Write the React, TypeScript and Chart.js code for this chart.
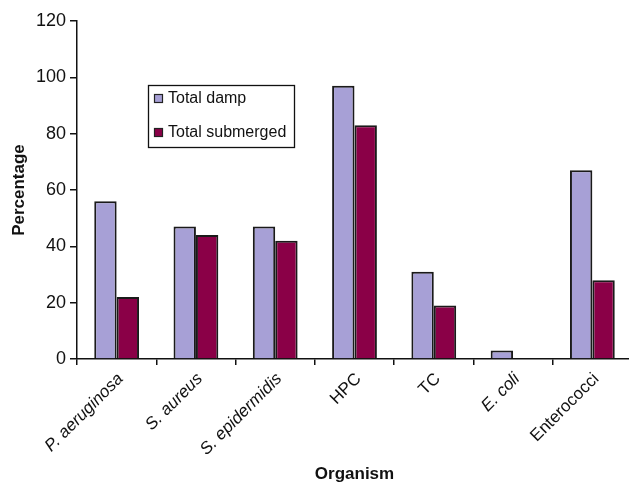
import React, { useEffect, useRef } from "react";
import { Chart, registerables } from "chart.js";

Chart.register(...registerables);

const categories = [
  "P. aeruginosa",
  "S. aureus",
  "S. epidermidis",
  "HPC",
  "TC",
  "E. coli",
  "Enterococci",
];
const italicLabels = [true, true, true, false, false, true, false];
const totalDamp = [56, 47, 47, 97, 31, 3, 67];
const totalSubmerged = [22, 44, 42, 83, 19, 0, 28];
const seriesLabels = ["Total damp", "Total submerged"];
const seriesColors = ["#A7A0D6", "#8A0047"];
const yTicks = { min: 0, max: 120, step: 20 };

const FONT = "'Liberation Sans', Arial, Helvetica, sans-serif";

const boxLegend = {
  id: "boxLegend",
  afterDraw(chart: any) {
    const ctx = chart.ctx as CanvasRenderingContext2D;
    const bx = 148.5;
    const by = 85.5;
    const bw = 146;
    const bh = 62;
    ctx.save();
    ctx.fillStyle = "#ffffff";
    ctx.fillRect(bx, by, bw, bh);
    ctx.strokeStyle = "#111111";
    ctx.lineWidth = 1.3;
    ctx.strokeRect(bx, by, bw, bh);
    ctx.font = `16px ${FONT}`;
    ctx.textBaseline = "middle";
    ctx.textAlign = "left";
    chart.data.datasets.forEach((ds: any, i: number) => {
      const cy = 98 + i * 34;
      ctx.fillStyle = ds.backgroundColor;
      ctx.fillRect(154, cy - 4, 9, 9);
      ctx.strokeStyle = "#222222";
      ctx.lineWidth = 1.2;
      ctx.strokeRect(154.5, cy - 3.5, 8, 8);
      ctx.fillStyle = "#111111";
      ctx.fillText(ds.label, 168, cy + 1);
    });
    ctx.restore();
  },
};

export default function App() {
  const canvasRef = useRef<HTMLCanvasElement | null>(null);

  useEffect(() => {
    if (!canvasRef.current) return;
    const chart = new Chart(canvasRef.current, {
      type: "bar",
      data: {
        labels: categories,
        datasets: [
          {
            label: seriesLabels[0],
            data: totalDamp,
            backgroundColor: seriesColors[0],
            borderColor: "#1a1a1a",
            borderWidth: 2,
            categoryPercentage: 0.565,
            barPercentage: 1.0,
          },
          {
            label: seriesLabels[1],
            data: totalSubmerged,
            backgroundColor: seriesColors[1],
            borderColor: "#1a1a1a",
            borderWidth: 2,
            categoryPercentage: 0.565,
            barPercentage: 1.0,
          },
        ],
      },
      options: {
        responsive: false,
        animation: false,
        devicePixelRatio: 1,
        layout: { padding: { top: 21, right: 8, left: 0, bottom: 0 } },
        plugins: {
          legend: { display: false },
          tooltip: { enabled: false },
          title: { display: false },
        },
        scales: {
          x: {
            grid: {
              display: true,
              drawOnChartArea: false,
              drawTicks: true,
              tickLength: 6,
              color: "#111111",
              lineWidth: 1.5,
              offset: true,
            },
            border: { display: true, color: "#111111", width: 1.5 },
            ticks: {
              minRotation: 45,
              maxRotation: 45,
              autoSkip: false,
              color: "#111111",
              padding: 4,
              labelOffset: 4,
              font: (ctx: any) => ({
                family: FONT,
                size: 17,
                style: italicLabels[ctx.index] ? "italic" : "normal",
              }),
            },
            title: {
              display: true,
              text: "Organism",
              color: "#111111",
              font: { family: FONT, size: 17, weight: "bold" },
              padding: { top: 4, bottom: 0 },
            },
            afterFit: (scale: any) => {
              scale.height = 126;
            },
          },
          y: {
            min: yTicks.min,
            max: yTicks.max,
            grid: {
              display: true,
              drawOnChartArea: false,
              drawTicks: true,
              tickLength: 7,
              color: "#111111",
              lineWidth: 1.5,
            },
            border: { display: true, color: "#111111", width: 1.5 },
            ticks: {
              stepSize: yTicks.step,
              color: "#111111",
              padding: 4,
              font: { family: FONT, size: 18 },
            },
            title: {
              display: true,
              text: "Percentage",
              color: "#111111",
              font: { family: FONT, size: 17, weight: "bold" },
              padding: { top: 9, bottom: 0 },
            },
            afterFit: (scale: any) => {
              scale.width = 77;
            },
          },
        },
      },
      plugins: [boxLegend],
    });
    return () => chart.destroy();
  }, []);

  return (
    <div
      style={{
        position: "absolute",
        left: 0,
        top: 0,
        width: 629,
        height: 485,
        overflow: "hidden",
        background: "#ffffff",
      }}
    >
      <canvas
        ref={canvasRef}
        width={640}
        height={485}
        style={{ display: "block", width: 640, height: 485 }}
      />
    </div>
  );
}
